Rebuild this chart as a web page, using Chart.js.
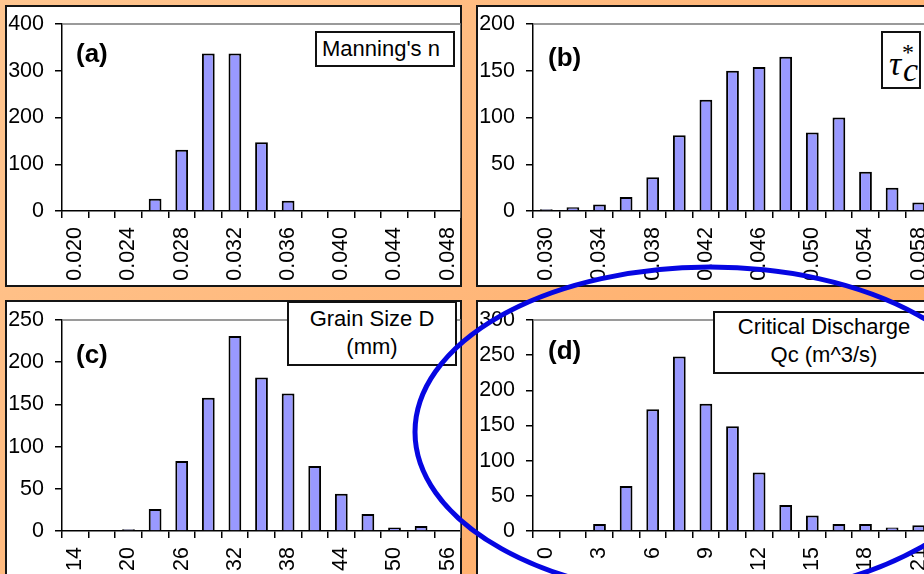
<!DOCTYPE html>
<html>
<head>
<meta charset="utf-8">
<title>Parameter histograms</title>
<script src="https://cdn.jsdelivr.net/npm/chart.js@4.4.1/dist/chart.umd.min.js"></script>
<style>
  html, body {
    margin: 0;
    padding: 0;
    width: 924px;
    height: 574px;
    overflow: hidden;
  }
  body {
    position: relative;
    background: linear-gradient(135deg, #ffc690 0%, #ffb77a 50%, #ffa95f 100%);
    font-family: "Liberation Sans", Arial, sans-serif;
  }
  .panel {
    position: absolute;
    box-sizing: border-box;
    background: #fff;
    border: 2px solid #151515;
  }
  canvas {
    position: absolute;
    z-index: 2;
  }
  .tag {
    position: absolute;
    z-index: 3;
    font-weight: bold;
    font-size: 26px;
    line-height: 30px;
  }
  .key {
    position: absolute;
    z-index: 4;
    box-sizing: border-box;
    background: #fff;
    border: 2px solid #111;
    font-size: 22px;
    line-height: 28px;
    text-align: center;
    color: #000;
  }
  .sym {
    position: absolute;
    font-family: "Liberation Serif", "Times New Roman", serif;
    font-style: italic;
    line-height: 1;
  }
  #ring {
    position: absolute;
    left: 0;
    top: 0;
    z-index: 5;
    pointer-events: none;
  }
</style>
</head>
<body>

<!-- white chart frames -->
<div class="panel" style="left:5px; top:5px; width:457px; height:282px;"></div>
<div class="panel" style="left:476px; top:5px; width:470px; height:282px;"></div>
<div class="panel" style="left:5px; top:300px; width:457px; height:300px;"></div>
<div class="panel" style="left:476px; top:300px; width:470px; height:300px;"></div>

<canvas id="chartA" width="455" height="280" style="left:6px; top:6px;"></canvas>
<canvas id="chartB" width="455" height="280" style="left:477px; top:6px;"></canvas>
<canvas id="chartC" width="455" height="305" style="left:6px; top:301px;"></canvas>
<canvas id="chartD" width="455" height="305" style="left:477px; top:301px;"></canvas>

<div class="tag" style="left:76px; top:38px;">(a)</div>
<div class="tag" style="left:548px; top:42px;">(b)</div>
<div class="tag" style="left:76px; top:339px;">(c)</div>
<div class="tag" style="left:548px; top:335px;">(d)</div>

<div class="key" style="left:315px; top:31px; width:140px; height:36px; text-align:left; padding-left:5px; line-height:31px;">Manning's n</div>
<div class="key" style="left:881px; top:31px; width:40px; height:58px;">
  <span class="sym" style="left:6px; top:14px; font-size:34px;">τ</span>
  <span class="sym" style="left:20px; top:20px; font-size:34px;">c</span>
  <span class="sym" style="left:19px; top:7px; font-size:24px; font-style:normal;">*</span>
</div>
<div class="key" style="left:287px; top:301px; width:170px; height:65px; padding-top:2px;">Grain Size D<br>(mm)</div>
<div class="key" style="left:713px; top:311px; width:222px; height:63px; padding-top:0px;">Critical Discharge<br>Qc (m^3/s)</div>

<svg id="ring" width="924" height="574">
  <ellipse cx="710" cy="432" rx="295" ry="165" fill="none" stroke="#0606e2" stroke-width="5"/>
</svg>

<script>
// bin labels and counts for each parameter
const manningBins = ['0.020', '0.022', '0.024', '0.026', '0.028', '0.030', '0.032', '0.034',
                     '0.036', '0.038', '0.040', '0.042', '0.044', '0.046', '0.048'];
const manningCounts = [0, 0, 0, 26, 131, 337, 337, 147, 22, 0, 0, 0, 0, 0, 0];

const shieldsBins = ['0.030', '0.032', '0.034', '0.036', '0.038', '0.040', '0.042', '0.044',
                     '0.046', '0.048', '0.050', '0.052', '0.054', '0.056', '0.058'];
const shieldsCounts = [2, 4, 7, 15, 36, 81, 119, 150, 154, 165, 84, 100, 42, 25, 9];

const grainBins = ['14', '17', '20', '23', '26', '29', '32', '35', '38', '41', '44', '47', '50', '53', '56'];
const grainCounts = [0, 0, 2, 26, 83, 158, 231, 182, 163, 77, 44, 20, 4, 6, 0];

const dischargeBins = ['0', '1.5', '3', '4.5', '6', '7.5', '9', '10.5', '12', '13.5', '15', '16.5', '18', '19.5', '21'];
const dischargeCounts = [0, 0, 10, 64, 173, 248, 181, 149, 83, 37, 22, 10, 10, 5, 8];

const tickFont = { family: "'Liberation Sans', Arial, sans-serif", size: 21.5 };

// grey top/right border of the plot area
const plotFrame = {
  id: 'plotFrame',
  afterDraw(chart) {
    const { ctx, chartArea: a } = chart;
    ctx.save();
    ctx.strokeStyle = '#7a7a7a';
    ctx.lineWidth = 1.5;
    ctx.beginPath();
    ctx.moveTo(a.left, a.top);
    ctx.lineTo(a.right, a.top);
    ctx.lineTo(a.right, a.bottom + 7);
    ctx.stroke();
    ctx.restore();
  }
};

function histogram(id, bins, counts, yMax, yStep, padTop) {
  new Chart(document.getElementById(id), {
    type: 'bar',
    data: {
      labels: bins,
      datasets: [{
        data: counts,
        backgroundColor: '#9999ff',
        borderColor: '#000',
        borderWidth: 2,
        borderSkipped: 'start',
        categoryPercentage: 1,
        barPercentage: 0.48
      }]
    },
    options: {
      responsive: false,
      animation: false,
      layout: { padding: { top: padTop, left: 0, right: 0, bottom: 0 } },
      plugins: { legend: { display: false }, tooltip: { enabled: false } },
      scales: {
        x: {
          offset: true,
          grid: { offset: true, drawOnChartArea: false, tickLength: 7, color: '#000', lineWidth: 1.5 },
          border: { color: '#000', width: 1.5 },
          ticks: {
            autoSkip: false,
            minRotation: 90,
            maxRotation: 90,
            padding: 9,
            color: '#000',
            font: tickFont,
            callback: (v, i) => (i % 2 ? '' : bins[i])
          },
          afterFit: s => { s.height = 75; s.paddingLeft = 0; s.paddingRight = 0; }
        },
        y: {
          min: 0,
          max: yMax,
          grid: { drawOnChartArea: false, tickLength: 7, color: '#000', lineWidth: 1.5 },
          border: { color: '#000', width: 1.5 },
          ticks: { stepSize: yStep, padding: 11, color: '#000', font: tickFont },
          afterFit: s => { s.width = 56; s.paddingTop = 0; s.paddingBottom = 0; }
        }
      }
    },
    plugins: [plotFrame]
  });
}

histogram('chartA', manningBins, manningCounts, 400, 100, 18);
histogram('chartB', shieldsBins, shieldsCounts, 200, 50, 18);
histogram('chartC', grainBins, grainCounts, 250, 50, 19);
histogram('chartD', dischargeBins, dischargeCounts, 300, 50, 19);
</script>
</body>
</html>
